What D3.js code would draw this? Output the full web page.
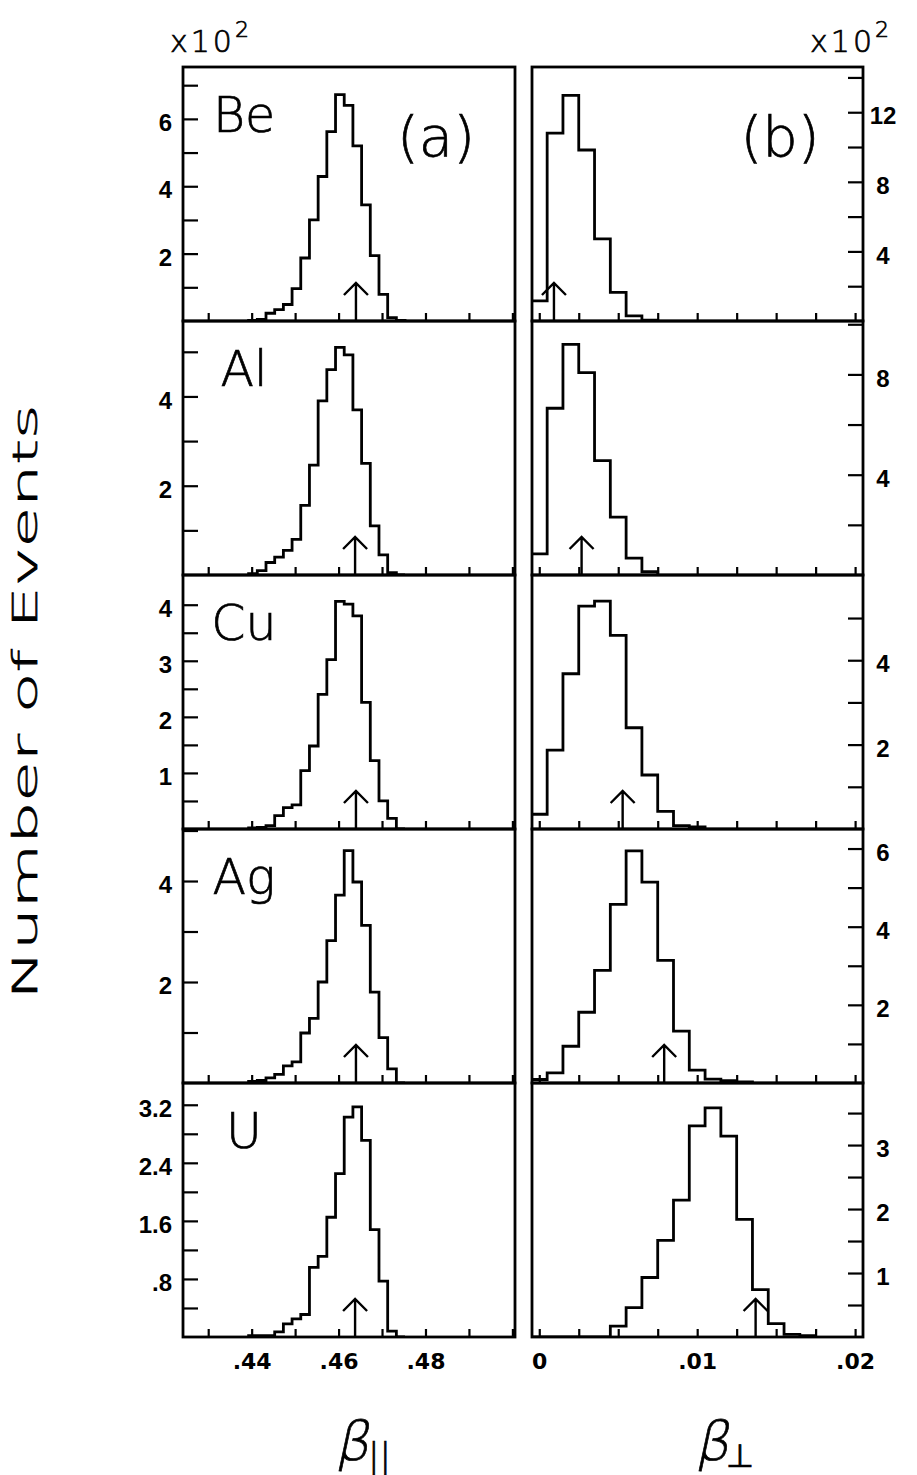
<!DOCTYPE html>
<html lang="en">
<head>
    <meta charset="utf-8">
    <title>Beta distributions</title>
    <script src="https://d3js.org/d3.v7.min.js"></script>
    <style>
        body { margin: 0; background: #fff; }
        .thin { font-family: "DejaVu Sans", sans-serif; font-weight: 200; stroke: #000; stroke-width: 0.7px; }
    </style>
</head>
<body>
    <div id="chart"></div>
    <script>

        // targets, one row each
        const elements = ["Be", "Al", "Cu", "Ag", "U"];

        // beta parallel histograms (x10^2 events), bins of 0.002 starting at 0.4393
        const parBinStart = 0.4393;
        const parBinWidth = 0.002;
        const beParallel = [0.02, 0.05, 0.23, 0.34, 0.49, 0.96, 1.87, 3.0, 4.29, 5.62, 6.72, 6.4, 5.2, 3.45, 1.94, 0.79, 0.1, 0.02];
        const alParallel = [0.03, 0.1, 0.28, 0.4, 0.55, 0.8, 1.56, 2.46, 3.9, 4.6, 5.1, 4.93, 3.7, 2.5, 1.1, 0.45, 0.05, 0];
        const cuParallel = [0.02, 0.03, 0.06, 0.24, 0.38, 0.43, 1.04, 1.48, 2.4, 3.02, 4.06, 4.01, 3.8, 2.26, 1.22, 0.5, 0.19, 0];
        const agParallel = [0.03, 0.05, 0.1, 0.17, 0.34, 0.42, 0.99, 1.28, 2.0, 2.82, 3.72, 4.6, 3.98, 3.12, 1.8, 0.9, 0.28, 0];
        const uParallel  = [0.02, 0.02, 0.02, 0.07, 0.18, 0.25, 0.31, 0.96, 1.11, 1.65, 2.25, 3.03, 3.17, 2.71, 1.48, 0.77, 0.08, 0];

        // beta perpendicular histograms (x10^2 events), bins of 0.001 starting at -0.0005
        const perpBinStart = -0.0005;
        const perpBinWidth = 0.001;
        const bePerp = [1.16, 10.8, 12.97, 9.83, 4.72, 1.64, 0.3, 0.05];
        const alPerp = [0.84, 6.65, 9.2, 8.07, 4.56, 2.31, 0.67, 0.13];
        const cuPerp = [0.35, 1.87, 3.68, 5.28, 5.4, 4.59, 2.4, 1.28, 0.42, 0.08, 0.05];
        const agPerp = [0.09, 0.26, 0.94, 1.81, 2.88, 4.57, 5.94, 5.14, 3.14, 1.33, 0.33, 0.1, 0.06, 0.03];
        const uPerp  = [0, 0, 0, 0, 0, 0.17, 0.46, 0.93, 1.51, 2.14, 3.3, 3.58, 3.14, 1.84, 0.74, 0.21, 0.04, 0.02];

        // arrow positions
        const parArrows  = [0.464, 0.4638, 0.464, 0.464, 0.4638];
        const perpArrows = [0.00093, 0.00268, 0.00528, 0.00791, 0.0137];

        // axes
        const parXDomain  = [0.4242, 0.5006];
        const perpXDomain = [-0.00046, 0.0205];
        const parXTicks  = [0.43, 0.44, 0.45, 0.46, 0.47, 0.48, 0.49, 0.50];
        const parXLabels = [0.44, 0.46, 0.48];
        const perpXTicks  = [0, 0.0025, 0.005, 0.0075, 0.01, 0.0125, 0.015, 0.0175, 0.02];
        const perpXLabels = [0, 0.01, 0.02];

        const parYMax  = [7.54, 5.69, 4.53, 5.03, 3.5];
        const perpYMax = [14.6, 10.13, 6.02, 6.5, 3.97];
        const parYTicks = [
            [1, 2, 3, 4, 5, 6, 7],
            [1, 2, 3, 4, 5],
            [0.5, 1, 1.5, 2, 2.5, 3, 3.5, 4],
            [1, 2, 3, 4, 5],
            [0.4, 0.8, 1.2, 1.6, 2.0, 2.4, 2.8, 3.2]
        ];
        const parYLabels = [[2, 4, 6], [2, 4], [1, 2, 3, 4], [2, 4], [0.8, 1.6, 2.4, 3.2]];
        const perpYTicks = [
            [2, 4, 6, 8, 10, 12, 14],
            [2, 4, 6, 8, 10],
            [1, 2, 3, 4, 5],
            [1, 2, 3, 4, 5, 6],
            [0.5, 1, 1.5, 2, 2.5, 3, 3.5]
        ];
        const perpYLabels = [[4, 8, 12], [4, 8], [2, 4], [2, 4, 6], [1, 2, 3]];

        const parSeries  = [beParallel, alParallel, cuParallel, agParallel, uParallel];
        const perpSeries = [bePerp, alPerp, cuPerp, agPerp, uPerp];

        // layout
        const width = 917, height = 1475;
        const top0 = 67, rowH = 254;
        const cols = [
            { x0: 183, x1: 515, domain: parXDomain, ticks: parXTicks, xLabels: parXLabels,
              binStart: parBinStart, binWidth: parBinWidth, series: parSeries, arrows: parArrows,
              yMax: parYMax, yTicks: parYTicks, yLabels: parYLabels, side: "left" },
            { x0: 532, x1: 863, domain: perpXDomain, ticks: perpXTicks, xLabels: perpXLabels,
              binStart: perpBinStart, binWidth: perpBinWidth, series: perpSeries, arrows: perpArrows,
              yMax: perpYMax, yTicks: perpYTicks, yLabels: perpYLabels, side: "right" }
        ];

        const has = (arr, v) => arr.some(a => Math.abs(a - v) < 1e-9);
        const fmtNum = d => d === 0 ? "0" : String(+d.toFixed(4)).replace(/^0\./, ".");

        const svg = d3.select("#chart")
            .append("svg")
            .attr("width", width)
            .attr("height", height)
            .style("background-color", "#fff");

        const defs = svg.append("defs");

        cols.forEach((col, c) => {
            const x = d3.scaleLinear().domain(col.domain).range([col.x0, col.x1]);

            elements.forEach((el, r) => {
                const yTop = top0 + r * rowH, yBot = yTop + rowH;
                const y = d3.scaleLinear().domain([0, col.yMax[r]]).range([yBot, yTop]);
                const g = svg.append("g");

                const clipId = `clip-${c}-${r}`;
                defs.append("clipPath").attr("id", clipId)
                    .append("rect")
                    .attr("x", col.x0).attr("y", yTop)
                    .attr("width", col.x1 - col.x0).attr("height", rowH);

                // histogram outline
                const counts = col.series[r];
                const pts = [[col.binStart, 0]];
                counts.forEach((v, i) => {
                    const e0 = col.binStart + i * col.binWidth;
                    pts.push([e0, v], [e0 + col.binWidth, v]);
                });
                pts.push([col.binStart + counts.length * col.binWidth, 0]);

                const line = d3.line().x(d => x(d[0])).y(d => y(d[1]));
                g.append("path")
                    .attr("d", line(pts))
                    .attr("clip-path", `url(#${clipId})`)
                    .attr("fill", "none")
                    .attr("stroke", "#000")
                    .attr("stroke-width", 2.8)
                    .attr("stroke-linejoin", "miter");

                // x axis (ticks pointing up)
                const xAxis = d3.axisBottom(x)
                    .tickValues(col.ticks)
                    .tickSizeInner(-8)
                    .tickSizeOuter(0)
                    .tickPadding(16)
                    .tickFormat(d => (r === elements.length - 1 && has(col.xLabels, d)) ? fmtNum(d) : "");
                const gx = g.append("g").attr("transform", `translate(0,${yBot})`).call(xAxis);
                gx.select(".domain").remove();
                gx.selectAll("line").attr("stroke-width", 2.2);
                gx.selectAll("text")
                    .attr("font-family", "DejaVu Sans, sans-serif")
                    .attr("font-weight", "bold")
                    .attr("font-size", 22);

                // y axis (ticks pointing inward)
                const yAxis = (col.side === "left" ? d3.axisLeft(y) : d3.axisRight(y))
                    .tickValues(col.yTicks[r])
                    .tickSizeInner(-15)
                    .tickSizeOuter(0)
                    .tickPadding(11)
                    .tickFormat(d => has(col.yLabels[r], d) ? fmtNum(d) : "");
                const gy = g.append("g")
                    .attr("transform", `translate(${col.side === "left" ? col.x0 : col.x1},0)`)
                    .call(yAxis);
                gy.select(".domain").remove();
                gy.selectAll("line").attr("stroke-width", 2.2);
                gy.selectAll("text")
                    .attr("font-family", "Liberation Sans, Arial, sans-serif")
                    .attr("font-weight", "bold")
                    .attr("font-size", 24)
                    .attr("transform", "translate(0,4)");
                if (col.side === "right") {
                    gy.selectAll("text").attr("x", 20).attr("text-anchor", "middle");
                }

                // arrow marking the beam value
                const ax = x(col.arrows[r]);
                const aLen = 38, aHead = 12;
                g.append("path")
                    .attr("d", `M${ax},${yBot} V${yBot - aLen} M${ax - aHead},${yBot - aLen + aHead} L${ax},${yBot - aLen} L${ax + aHead},${yBot - aLen + aHead}`)
                    .attr("fill", "none")
                    .attr("stroke", "#000")
                    .attr("stroke-width", 2.4);

                // frame
                g.append("rect")
                    .attr("x", col.x0).attr("y", yTop)
                    .attr("width", col.x1 - col.x0).attr("height", rowH)
                    .attr("fill", "none")
                    .attr("stroke", "#000")
                    .attr("stroke-width", 2.8);

                // element label
                if (c === 0) {
                    g.append("text")
                        .attr("class", "thin")
                        .attr("x", col.x0 + 61)
                        .attr("y", yTop + 65)
                        .attr("text-anchor", "middle")
                        .attr("font-size", 49)
                        .text(el);
                }
            });
        });

        // panel tags
        svg.append("text").attr("class", "thin").attr("x", 436).attr("y", 156)
            .attr("text-anchor", "middle").attr("font-size", 56).text("(a)");
        svg.append("text").attr("class", "thin").attr("x", 780).attr("y", 156)
            .attr("text-anchor", "middle").attr("font-size", 56).text("(b)");

        // scale factors
        const addScale = (xPos, anchor) => {
            const t = svg.append("text").attr("class", "thin")
                .attr("x", xPos).attr("y", 52)
                .attr("text-anchor", anchor)
                .attr("font-size", 30)
                .attr("letter-spacing", 3);
            t.append("tspan").text("x10");
            t.append("tspan").attr("dy", -15).attr("font-size", 22).text("2");
        };
        addScale(170, "start");
        addScale(892, "end");

        // y title
        svg.append("text")
            .attr("class", "thin")
            .attr("transform", "translate(37,702) rotate(-90)")
            .attr("text-anchor", "middle")
            .attr("font-size", 34)
            .attr("textLength", 595)
            .attr("lengthAdjust", "spacingAndGlyphs")
            .text("Number of Events");

        // x titles
        const addBeta = (xPos, sub, subSize, subDx) => {
            svg.append("text")
                .attr("class", "thin")
                .attr("transform", `translate(${xPos},1460) skewX(-12)`)
                .attr("font-size", 54).text("β");
            svg.append("text").attr("class", "thin")
                .attr("x", xPos + subDx).attr("y", 1467)
                .attr("font-size", subSize).text(sub);
        };
        addBeta(335, "||", 34, 33);
        addBeta(695, "⊥", 32, 31);

    </script>
</body>
</html>
